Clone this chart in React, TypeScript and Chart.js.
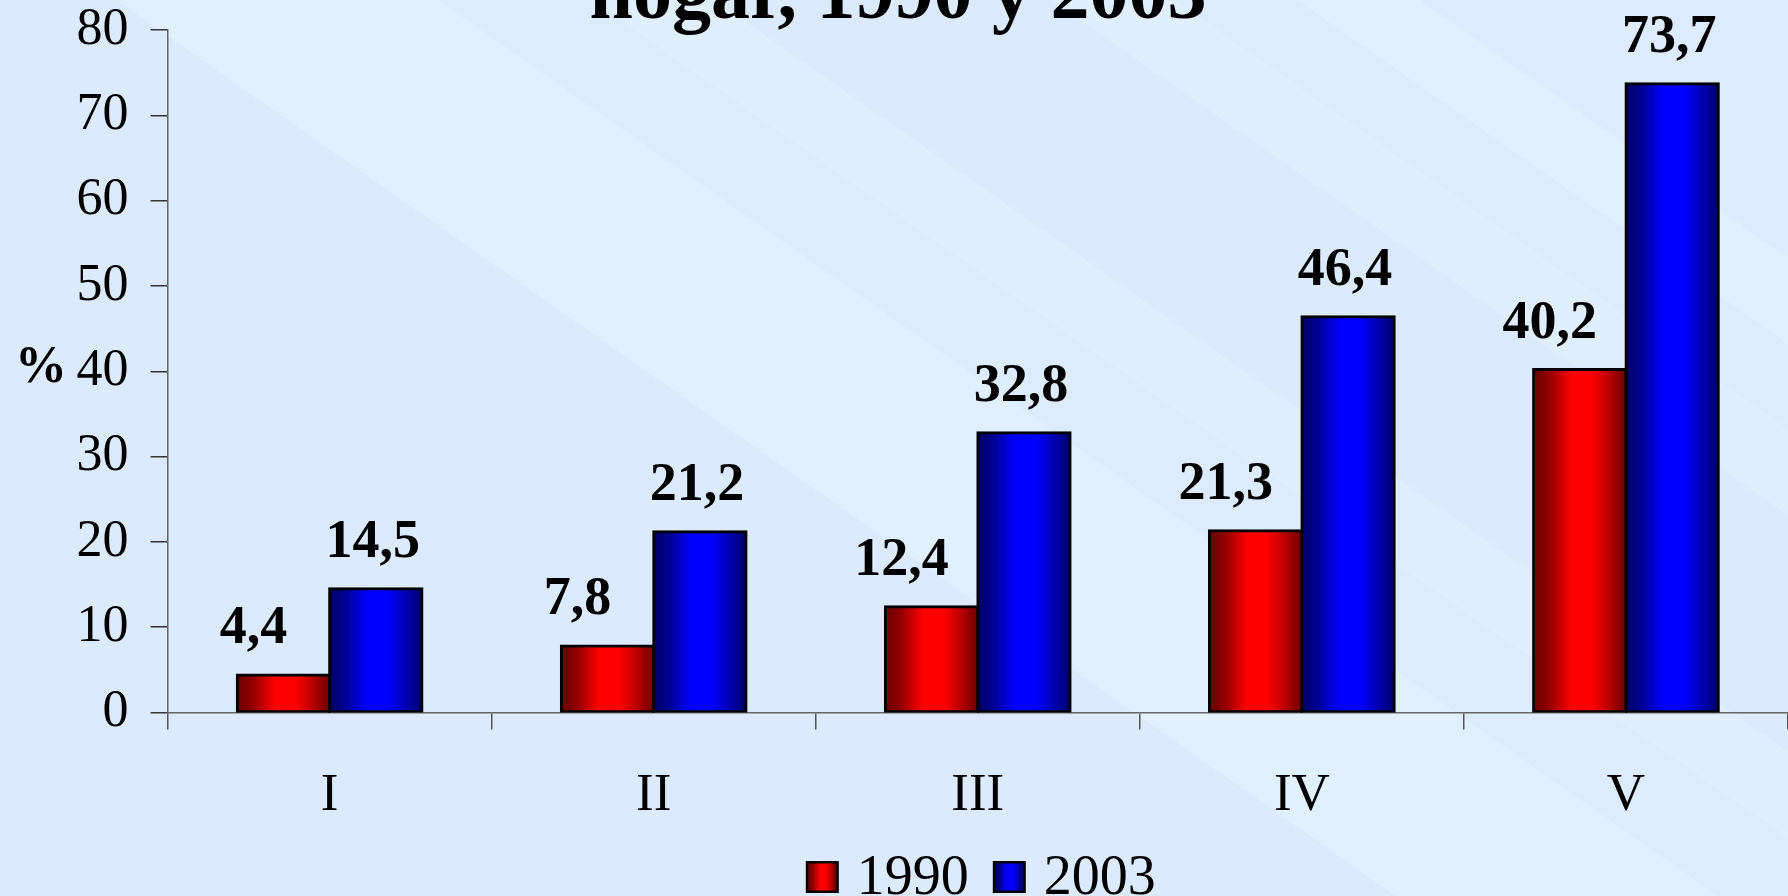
import React, { useEffect, useRef } from "react";
import { Chart, registerables } from "chart.js";

Chart.register(...registerables);

// ---- data ----
const categories = ["I", "II", "III", "IV", "V"];
const seriesNames = ["1990", "2003"];
const values1990 = [4.4, 7.8, 12.4, 21.3, 40.2];
const values2003 = [14.5, 21.2, 32.8, 46.4, 73.7];
const yMin = 0;
const yMax = 80;
const yStep = 10;
const titleText = "hogar, 1990 y 2003";
const yAxisTitle = "%";

// ---- styling ----
const SERIF = "'Liberation Serif', 'Times New Roman', Times, serif";
const CAT_PCT = 0.57;
const BORDER = 3;
const INFLATE = 1.5;
const LABEL_DX = [-30, -3];

const RED_STOPS: [number, string][] = [
  [0, "#680000"],
  [0.12, "#800000"],
  [0.2, "#9c0000"],
  [0.28, "#c20000"],
  [0.36, "#e60000"],
  [0.42, "#ff0000"],
  [0.62, "#ff0000"],
  [0.68, "#ea0000"],
  [0.78, "#c40000"],
  [0.88, "#980000"],
  [1, "#680000"],
];
const BLUE_STOPS: [number, string][] = [
  [0, "#000068"],
  [0.12, "#000080"],
  [0.2, "#00009c"],
  [0.28, "#0000c4"],
  [0.36, "#0000e8"],
  [0.42, "#0000ff"],
  [0.62, "#0000ff"],
  [0.68, "#0000e8"],
  [0.78, "#0000c0"],
  [0.88, "#000096"],
  [1, "#000068"],
];
const STOPS = [RED_STOPS, BLUE_STOPS];
const FALLBACK = ["#e00000", "#0000e0"];

function makeGradient(ctx: CanvasRenderingContext2D, left: number, right: number, stops: [number, string][]) {
  const g = ctx.createLinearGradient(left, 0, right, 0);
  stops.forEach(([p, c]) => g.addColorStop(p, c));
  return g;
}

function barFill(di: number) {
  return (c: any) => {
    const chart = c.chart;
    const xs = chart.scales && chart.scales.x;
    if (!xs || !chart.chartArea || c.dataIndex === undefined) return FALLBACK[di];
    const n = chart.data.labels.length;
    const catW = xs.width / n;
    const chunk = (catW * CAT_PCT) / 2;
    const center = xs.getPixelForValue(c.dataIndex);
    const start = center - (catW * CAT_PCT) / 2;
    const bc = start + chunk * di + chunk / 2;
    return makeGradient(chart.ctx, bc - chunk / 2 - INFLATE, bc + chunk / 2 + INFLATE, STOPS[di]);
  };
}

const fmt = (v: number) => v.toFixed(1).replace(".", ",");

const decorPlugin = {
  id: "decor",
  afterDatasetsDraw(chart: any) {
    const ctx: CanvasRenderingContext2D = chart.ctx;
    ctx.save();
    ctx.font = `bold 54px ${SERIF}`;
    ctx.fillStyle = "#000";
    ctx.textAlign = "center";
    ctx.textBaseline = "alphabetic";
    chart.data.datasets.forEach((ds: any, di: number) => {
      const meta = chart.getDatasetMeta(di);
      meta.data.forEach((el: any, i: number) => {
        ctx.fillText(fmt(ds.data[i]), el.x + LABEL_DX[di], el.y - 32);
      });
    });
    ctx.restore();
  },
  afterDraw(chart: any) {
    const ctx: CanvasRenderingContext2D = chart.ctx;
    const ca = chart.chartArea;
    ctx.save();
    // title (upper line cut off by the frame)
    ctx.fillStyle = "#000";
    ctx.font = `bold 78px ${SERIF}`;
    ctx.textAlign = "center";
    ctx.textBaseline = "alphabetic";
    ctx.fillText(titleText, chart.width / 2 + 4, 17.5);

    // y-axis title
    ctx.font = `bold 52px ${SERIF}`;
    ctx.textAlign = "center";
    ctx.textBaseline = "middle";
    ctx.fillText(yAxisTitle, 41, (ca.top + ca.bottom) / 2 - 3);

    // legend
    ctx.font = `56px ${SERIF}`;
    ctx.textAlign = "left";
    ctx.textBaseline = "alphabetic";
    const box = 33;
    const gapText = 18;
    const gapItem = 24;
    const widths = seriesNames.map((s) => ctx.measureText(s).width);
    const total = widths.reduce((a, w) => a + box + gapText + w, 0) + gapItem;
    let x = (ca.left + ca.right) / 2 + 3 - total / 2;
    const boxTop = 861;
    seriesNames.forEach((name, i) => {
      ctx.fillStyle = "#000";
      ctx.fillRect(x, boxTop, box, box - 1);
      ctx.fillStyle = makeGradient(ctx, x + 2.5, x + box - 2.5, STOPS[i]);
      ctx.fillRect(x + 2.5, boxTop + 2.5, box - 5, box - 6);
      ctx.fillStyle = "#000";
      ctx.fillText(name, x + box + gapText, 894);
      x += box + gapText + widths[i] + gapItem;
    });
    ctx.restore();
  },
};

const BG =
  "linear-gradient(35deg, #dbebfd 0%, #dbebfd 45.5%, #e1f0fe 45.5%, #e1f0fe 56%, #dcecfd 56%, #dcecfd 61%, #e0effe 61%, #e0effe 65%, #dbebfd 65%, #dbebfd 76%, #e0effe 76%, #e0effe 80%, #dcecfd 80%, #dcecfd 84%, #e1f0fe 84%, #e1f0fe 88%, #dcebfd 88%, #dcebfd 100%)";

export default function App() {
  const ref = useRef<HTMLCanvasElement | null>(null);

  useEffect(() => {
    if (!ref.current) return;
    const chart = new Chart(ref.current, {
      type: "bar",
      data: {
        labels: categories,
        datasets: [
          {
            label: seriesNames[0],
            data: values1990,
            backgroundColor: barFill(0),
            borderColor: "#000",
            borderWidth: BORDER,
            borderSkipped: false,
            inflateAmount: INFLATE,
          } as any,
          {
            label: seriesNames[1],
            data: values2003,
            backgroundColor: barFill(1),
            borderColor: "#000",
            borderWidth: BORDER,
            borderSkipped: false,
            inflateAmount: INFLATE,
          } as any,
        ],
      },
      options: {
        responsive: false,
        animation: false,
        devicePixelRatio: 1,
        layout: { padding: { top: 30, left: 0, right: 0, bottom: 0 } },
        datasets: { bar: { categoryPercentage: CAT_PCT, barPercentage: 1 } },
        plugins: {
          legend: { display: false },
          title: { display: false },
          tooltip: { enabled: false },
        },
        scales: {
          x: {
            offset: true,
            grid: {
              offset: true,
              drawOnChartArea: false,
              drawTicks: true,
              tickLength: 17,
              color: "#555",
              lineWidth: 1.5,
            },
            border: { color: "#666", width: 1.5 },
            ticks: {
              font: { family: SERIF, size: 53 },
              color: "#000",
              padding: 35,
              maxRotation: 0,
            },
            afterFit: (s: any) => {
              s.height = 183.5;
              s.paddingLeft = 0;
              s.paddingRight = 0;
            },
          },
          y: {
            min: yMin,
            max: yMax,
            grid: {
              drawOnChartArea: false,
              drawTicks: true,
              tickLength: 17,
              color: "#333",
              lineWidth: 1.5,
            },
            border: { color: "#666", width: 1.5 },
            ticks: {
              stepSize: yStep,
              font: { family: SERIF, size: 52 },
              color: "#000",
              padding: 22,
            },
            afterFit: (s: any) => {
              s.width = 167.6;
              s.paddingTop = 0;
              s.paddingBottom = 0;
            },
          },
        },
      },
      plugins: [decorPlugin],
    });
    return () => chart.destroy();
  }, []);

  return (
    <div
      style={{
        position: "absolute",
        left: 0,
        top: 0,
        width: 1788,
        height: 896,
        background: BG,
        overflow: "hidden",
      }}
    >
      <canvas ref={ref} width={1788} height={896} style={{ width: 1788, height: 896, display: "block" }} />
    </div>
  );
}
